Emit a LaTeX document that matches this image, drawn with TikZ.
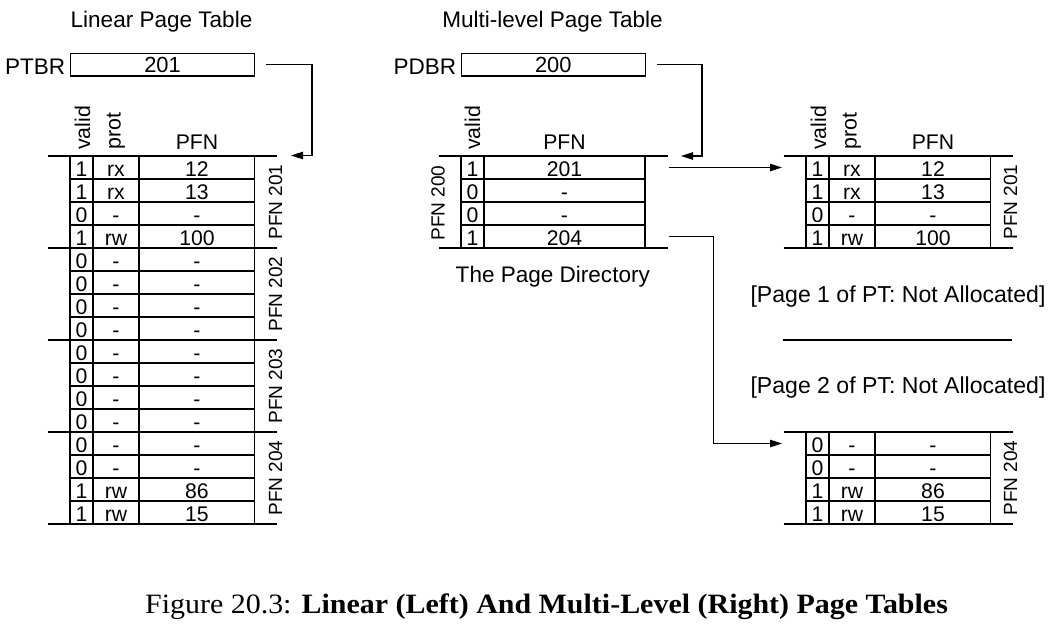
\documentclass[tikz,border=0pt]{standalone}
\usepackage{fontspec}
\setmainfont{Liberation Sans}
\newfontfamily\capfamily[FakeStretch=1.07]{Liberation Serif}
\usetikzlibrary{arrows.meta,calc}
\newcommand\fTitle{\fontsize{16.9}{18}\selectfont}
\newcommand\fNote{\fontsize{17.3}{18}\selectfont}
\newcommand\fCell{\fontsize{15.9}{16}\selectfont}
\newcommand\fHead{\fontsize{15.9}{17}\selectfont}
\newcommand\fVal{\fontsize{16.4}{17}\selectfont}
\newcommand\fSide{\fontsize{14.3}{15}\selectfont}
\newcommand\fRot{\fontsize{16}{17}\selectfont}
\newcommand\fCap{\capfamily\fontsize{21}{23}\selectfont}
\tikzset{
  thickrule/.style={line width=1.5pt},
  cellrule/.style={line width=0.9pt},
  conn/.style={line width=0.8pt,-{Triangle[length=9pt,width=5.6pt]}},
  celltext/.style={anchor=base,inner sep=0pt,font=\fCell},
  rothead/.style={rotate=90,anchor=base west,inner sep=0pt,font=\fRot},
  sidelabel/.style={rotate=90,anchor=base,inner sep=0pt,font=\fSide},
  headtext/.style={anchor=base,inner sep=0pt,font=\fHead},
  valtext/.style={anchor=base,inner sep=0pt,font=\fVal},
  titletext/.style={anchor=base,inner sep=0pt,font=\fTitle},
  notetext/.style={anchor=base,inner sep=0pt,font=\fNote},
  regbox/.style={draw,line width=0.8pt,minimum width=137.6pt,minimum height=17pt,inner sep=0pt},
}
% #1 prefix, #2 left x, #3 top y, #4 number of rows, #5 rows
\newcommand\pagetab[5]{%
\begin{scope}[shift={(#2,#3)}]
  \foreach \k in {0,...,#4} \draw[cellrule] (0,23*\k) -- (184.5,23*\k);
  \foreach \k in {0,4,...,#4} \draw[thickrule] (-22.5,23*\k) -- (207,23*\k);
  \foreach \xx in {0,23,69,184.5} \draw[cellrule] (\xx,0) -- (\xx,23*#4);
  \foreach \cv/\cp/\cf [count=\i from 0] in {#5} {
    \node[celltext] (#1v\i) at (11.5,23*\i+20.5) {\cv};
    \node[celltext] (#1p\i) at (46,23*\i+20.5) {\cp};
    \node[celltext] (#1f\i) at (127,23*\i+20.5) {\cf};
  }
\end{scope}}
% column headers: #1 prefix, #2 left x, #3 top y
\newcommand\tabhead[3]{%
\begin{scope}[shift={(#2,#3)}]
  \node[rothead] (#1valid) at (20,-6) {valid};
  \node[rothead] (#1prot) at (50.5,-6) {prot};
  \node[headtext] (#1pfn) at (127,-6) {PFN};
\end{scope}}
\begin{document}
\begin{tikzpicture}[x=0.75pt,y=-0.75pt]
\useasboundingbox (0,0) rectangle (1052,624);

% ---------- Linear page table ----------
\node[titletext] (ltitle) at (161.5,27.3) {Linear Page Table};
\node[titletext,anchor=base east] (ptbrlabel) at (65.5,75) {PTBR};
\node[regbox] (ptbr) at (162.5,64.7) {};
\node[valtext] (ptbrval) at (162.5,73) {201};

\tabhead{L}{70}{156}
\pagetab{L}{70}{156}{16}{1/rx/12,1/rx/13,0/-/-,1/rw/100,0/-/-,0/-/-,0/-/-,0/-/-,0/-/-,0/-/-,0/-/-,0/-/-,0/-/-,0/-/-,1/rw/86,1/rw/15}
\node[sidelabel] (lg1) at (282,202) {PFN 201};
\node[sidelabel] (lg2) at (282,294) {PFN 202};
\node[sidelabel] (lg3) at (282,386) {PFN 203};
\node[sidelabel] (lg4) at (282,478) {PFN 204};
\coordinate (Lin) at (291,155.5);
\draw[conn] ($(ptbr.east)+(11.5,0)$) -| ($(Lin)+(21,0)$) -- (Lin);

% ---------- Multi-level page table ----------
\node[titletext] (mtitle) at (552.5,27.3) {Multi-level Page Table};
\node[titletext,anchor=base east] (pdbrlabel) at (456.5,74.5) {PDBR};
\node[regbox] (pdbr) at (553.3,64.7) {};
\node[valtext] (pdbrval) at (553.3,73) {200};

\begin{scope}[shift={(461,156)}]
  \foreach \k in {0,...,4} \draw[cellrule] (0,23*\k) -- (184,23*\k);
  \foreach \k in {0,4} \draw[thickrule] (-22.5,23*\k) -- (206.5,23*\k);
  \foreach \xx in {0,23,184} \draw[cellrule] (\xx,0) -- (\xx,92);
  \node[rothead] (Dvalid) at (19,-6) {valid};
  \node[headtext] (Dpfn) at (103.5,-6) {PFN};
  \foreach \cv/\cf [count=\i from 0] in {1/201,0/-,0/-,1/204} {
    \node[celltext] (Dv\i) at (11.5,23*\i+20.5) {\cv};
    \node[celltext] (Df\i) at (103.5,23*\i+20.5) {\cf};
  }
\end{scope}
\node[sidelabel] (dg) at (444.5,203) {PFN 200};
\node[titletext] (dirlabel) at (552.8,282.3) {The Page Directory};
\coordinate (Din) at (681,156);
\draw[conn] ($(pdbr.east)+(11.5,0)$) -| ($(Din)+(21,0)$) -- (Din);

\tabhead{R}{806}{156}
\pagetab{R}{806}{156}{4}{1/rx/12,1/rx/13,0/-/-,1/rw/100}
\node[sidelabel] (rg1) at (1017,202) {PFN 201};

\node[notetext] (na1) at (898,302) {[Page 1 of PT: Not Allocated]};
\draw[thickrule] (783,340) -- (1012,340);
\node[notetext] (na2) at (898,393.5) {[Page 2 of PT: Not Allocated]};

\pagetab{S}{806}{432}{4}{0/-/-,0/-/-,1/rw/86,1/rw/15}
\node[sidelabel] (rg4) at (1017,478) {PFN 204};

\coordinate (D1out) at (668.5,167.5);
\coordinate (R1in) at (782,167.5);
\draw[conn] (D1out) -- (R1in);
\coordinate (D4out) at (668.5,236.5);
\coordinate (R4in) at (782,443.5);
\draw[conn] (D4out) -| ($(R4in)+(-68.7,0)$) -- (R4in);

% ---------- caption ----------
\node[anchor=base,inner sep=0pt] (caption) at (546.5,613) {\fCap Figure 20.3: \textbf{Linear (Left) And Multi-Level (Right) Page Tables}};
\end{tikzpicture}
\end{document}
